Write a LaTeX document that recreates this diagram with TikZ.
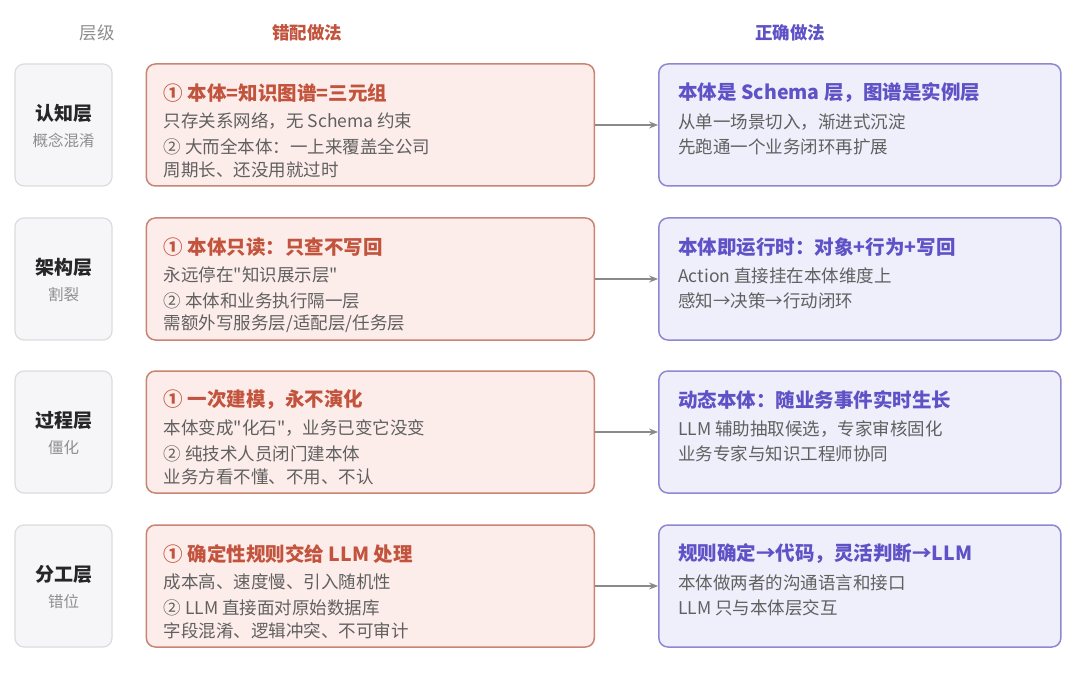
\documentclass[tikz,border=0pt]{standalone}
\usepackage{fontspec}
\setmainfont{Noto Sans CJK SC}[Ligatures = TeXOff]
\usetikzlibrary{positioning}
\usetikzlibrary{arrows.meta}

\definecolor{errline}{HTML}{C98474}
\definecolor{errfill}{HTML}{FDEDEA}
\definecolor{errtext}{HTML}{C2533D}
\definecolor{okline}{HTML}{8F87D2}
\definecolor{okfill}{HTML}{EFEEFB}
\definecolor{oktext}{HTML}{5E52C6}
\definecolor{lvline}{HTML}{DCDCDE}
\definecolor{lvfill}{HTML}{F6F6F8}
\definecolor{bodytext}{HTML}{606060}
\definecolor{subtext}{HTML}{8E8E8E}
\definecolor{linkgray}{HTML}{8A8A8A}

\tikzset{
  lvbox/.style = {draw = lvline, fill = lvfill, rounded corners = 9pt, line width = 1.2pt,
                  minimum width = 97pt, minimum height = 122pt, inner sep = 0pt},
  errbox/.style = {draw = errline, fill = errfill, rounded corners = 9pt, line width = 1.5pt,
                   minimum width = 448pt, minimum height = 122pt, inner sep = 0pt},
  okbox/.style = {draw = okline, fill = okfill, rounded corners = 9pt, line width = 1.5pt,
                  minimum width = 402pt, minimum height = 122pt, inner sep = 0pt},
  lvname/.style = {inner sep = 0pt, font = \fontsize{19}{22}\selectfont\bfseries, text = black!85},
  lvsub/.style = {inner sep = 0pt, font = \fontsize{15.5}{18}\selectfont, text = subtext},
  errtitle/.style = {anchor = west, inner sep = 0pt, font = \fontsize{19.5}{22}\selectfont\bfseries, text = errtext},
  oktitle/.style = {anchor = west, inner sep = 0pt, font = \fontsize{19.5}{22}\selectfont\bfseries, text = oktext},
  body/.style = {anchor = west, inner sep = 0pt, font = \fontsize{17.5}{20}\selectfont, text = bodytext},
  head/.style = {inner sep = 0pt, font = \fontsize{17.5}{20}\selectfont},
  link/.style = {draw = linkgray, line width = 1.3pt, -{Stealth[length = 9pt, width = 7pt]}}
}

\begin{document}
\begin{tikzpicture}[x = 1pt, y = -1pt]
  \useasboundingbox [fill = white] (0, 0) rectangle (1080, 674);

  % column heads
  \node [head, text = subtext] (hlv) at (97, 33) {层级};
  \node [head, text = errtext, font = \fontsize{17.5}{20}\selectfont\bfseries] (herr) at (307, 33) {错配做法};
  \node [head, text = oktext, font = \fontsize{17.5}{20}\selectfont\bfseries] (hok) at (790, 33) {正确做法};

  % row 1
  \node [lvbox] (lv1) at (63.5, 125) {};
  \node [lvname] (lv1n) at ([yshift = 12pt] lv1.center) {认知层};
  \node [lvsub] (lv1s) at ([yshift = -16pt] lv1.center) {概念混淆};
  \node [errbox, right = 33pt of lv1] (err1) {};
  \node [okbox, right = 63pt of err1] (ok1) {};
  \node [errtitle] (err1t) at ([xshift = 18pt, yshift = 32pt] err1.west) {① 本体=知识图谱=三元组};
  \node [body] (err1a) at ([xshift = 18pt, yshift = 4pt] err1.west) {只存关系网络，无 Schema 约束};
  \node [body] (err1b) at ([xshift = 18pt, yshift = -22pt] err1.west) {② 大而全本体：一上来覆盖全公司};
  \node [body] (err1c) at ([xshift = 18pt, yshift = -45pt] err1.west) {周期长、还没用就过时};
  \node [oktitle] (ok1t) at ([xshift = 20pt, yshift = 32pt] ok1.west) {本体是 Schema 层，图谱是实例层};
  \node [body] (ok1a) at ([xshift = 20pt, yshift = 3pt] ok1.west) {从单一场景切入，渐进式沉淀};
  \node [body] (ok1b) at ([xshift = 20pt, yshift = -22pt] ok1.west) {先跑通一个业务闭环再扩展};
  \draw [link] (err1.east) -- (ok1.west);

  % row 2
  \node [lvbox] (lv2) at (63.5, 279) {};
  \node [lvname] (lv2n) at ([yshift = 12pt] lv2.center) {架构层};
  \node [lvsub] (lv2s) at ([yshift = -16pt] lv2.center) {割裂};
  \node [errbox, right = 33pt of lv2] (err2) {};
  \node [okbox, right = 63pt of err2] (ok2) {};
  \node [errtitle] (err2t) at ([xshift = 18pt, yshift = 32pt] err2.west) {① 本体只读：只查不写回};
  \node [body] (err2a) at ([xshift = 18pt, yshift = 4pt] err2.west) {永远停在"知识展示层"};
  \node [body] (err2b) at ([xshift = 18pt, yshift = -22pt] err2.west) {② 本体和业务执行隔一层};
  \node [body] (err2c) at ([xshift = 18pt, yshift = -45pt] err2.west) {需额外写服务层/适配层/任务层};
  \node [oktitle] (ok2t) at ([xshift = 20pt, yshift = 32pt] ok2.west) {本体即运行时：对象+行为+写回};
  \node [body] (ok2a) at ([xshift = 20pt, yshift = 3pt] ok2.west) {Action 直接挂在本体维度上};
  \node [body] (ok2b) at ([xshift = 20pt, yshift = -22pt] ok2.west) {感知→决策→行动闭环};
  \draw [link] (err2.east) -- (ok2.west);

  % row 3
  \node [lvbox] (lv3) at (63.5, 432) {};
  \node [lvname] (lv3n) at ([yshift = 12pt] lv3.center) {过程层};
  \node [lvsub] (lv3s) at ([yshift = -16pt] lv3.center) {僵化};
  \node [errbox, right = 33pt of lv3] (err3) {};
  \node [okbox, right = 63pt of err3] (ok3) {};
  \node [errtitle] (err3t) at ([xshift = 18pt, yshift = 32pt] err3.west) {① 一次建模，永不演化};
  \node [body] (err3a) at ([xshift = 18pt, yshift = 4pt] err3.west) {本体变成"化石"，业务已变它没变};
  \node [body] (err3b) at ([xshift = 18pt, yshift = -22pt] err3.west) {② 纯技术人员闭门建本体};
  \node [body] (err3c) at ([xshift = 18pt, yshift = -45pt] err3.west) {业务方看不懂、不用、不认};
  \node [oktitle] (ok3t) at ([xshift = 20pt, yshift = 32pt] ok3.west) {动态本体：随业务事件实时生长};
  \node [body] (ok3a) at ([xshift = 20pt, yshift = 3pt] ok3.west) {LLM 辅助抽取候选，专家审核固化};
  \node [body] (ok3b) at ([xshift = 20pt, yshift = -22pt] ok3.west) {业务专家与知识工程师协同};
  \draw [link] (err3.east) -- (ok3.west);

  % row 4
  \node [lvbox] (lv4) at (63.5, 586) {};
  \node [lvname] (lv4n) at ([yshift = 12pt] lv4.center) {分工层};
  \node [lvsub] (lv4s) at ([yshift = -16pt] lv4.center) {错位};
  \node [errbox, right = 33pt of lv4] (err4) {};
  \node [okbox, right = 63pt of err4] (ok4) {};
  \node [errtitle] (err4t) at ([xshift = 18pt, yshift = 32pt] err4.west) {① 确定性规则交给 LLM 处理};
  \node [body] (err4a) at ([xshift = 18pt, yshift = 4pt] err4.west) {成本高、速度慢、引入随机性};
  \node [body] (err4b) at ([xshift = 18pt, yshift = -22pt] err4.west) {② LLM 直接面对原始数据库};
  \node [body] (err4c) at ([xshift = 18pt, yshift = -45pt] err4.west) {字段混淆、逻辑冲突、不可审计};
  \node [oktitle] (ok4t) at ([xshift = 20pt, yshift = 32pt] ok4.west) {规则确定→代码，灵活判断→LLM};
  \node [body] (ok4a) at ([xshift = 20pt, yshift = 3pt] ok4.west) {本体做两者的沟通语言和接口};
  \node [body] (ok4b) at ([xshift = 20pt, yshift = -22pt] ok4.west) {LLM 只与本体层交互};
  \draw [link] (err4.east) -- (ok4.west);
\end{tikzpicture}
\end{document}
